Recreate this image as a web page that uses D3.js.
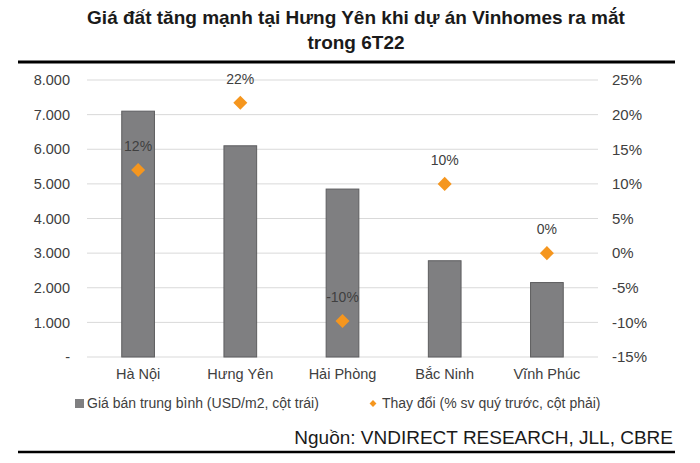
<!DOCTYPE html>
<html>
<head>
<meta charset="utf-8">
<script src="https://cdn.jsdelivr.net/npm/d3@7"></script>
<style>
  body { margin: 0; background: #fff; }
  svg { display: block; font-family: "Liberation Sans", Arial, sans-serif; }
</style>
</head>
<body>
<div id="chart"></div>
<script>
// data
const provinces = ["Hà Nội", "Hưng Yên", "Hải Phòng", "Bắc Ninh", "Vĩnh Phúc"];
const avgPrice = [7100, 6100, 4850, 2780, 2150];          // USD/m2, left axis
const priceChange = [0.12, 0.217, -0.098, 0.10, 0.0];     // % vs previous quarter, right axis
const leftTicks = [0, 1000, 2000, 3000, 4000, 5000, 6000, 7000, 8000];
const rightTicks = [-0.15, -0.10, -0.05, 0, 0.05, 0.10, 0.15, 0.20, 0.25];

const titleLines = ["Giá đất tăng mạnh tại Hưng Yên khi dự án Vinhomes ra mắt", "trong 6T22"];
const legendLabels = ["Giá bán trung bình (USD/m2, cột trái)", "Thay đổi (% sv quý trước, cột phải)"];
const sourceText = "Nguồn: VNDIRECT RESEARCH, JLL, CBRE";

const WIDTH = 700, HEIGHT = 463;
const margin = {top: 80, right: 102, bottom: 106, left: 87};
const width = WIDTH - margin.left - margin.right;
const height = HEIGHT - margin.top - margin.bottom;

const svg = d3.select("#chart").append("svg")
    .attr("width", WIDTH)
    .attr("height", HEIGHT);

// title + rules
svg.selectAll(".title").data(titleLines).enter().append("text")
    .attr("class", "title")
    .attr("x", 356)
    .attr("y", (d, i) => 24 + i * 25)
    .attr("text-anchor", "middle")
    .attr("font-weight", "bold")
    .attr("font-size", 19)
    .attr("fill", "#1a1a1a")
    .text(d => d);

svg.append("line").attr("x1", 18).attr("x2", 675).attr("y1", 62).attr("y2", 62)
    .attr("stroke", "#000").attr("stroke-width", 3);
svg.append("line").attr("x1", 18).attr("x2", 675).attr("y1", 452).attr("y2", 452)
    .attr("stroke", "#000").attr("stroke-width", 2.5);

const g = svg.append("g").attr("transform", `translate(${margin.left},${margin.top})`);

// scales
const x = d3.scaleBand().domain(provinces).range([0, width]).paddingInner(0.68).paddingOuter(0.34);
const yL = d3.scaleLinear().domain([0, 8000]).range([height, 0]);
const yR = d3.scaleLinear().domain([-0.15, 0.25]).range([height, 0]);

// gridlines
g.selectAll(".grid").data(leftTicks).enter().append("line")
    .attr("class", "grid")
    .attr("x1", 0).attr("x2", width)
    .attr("y1", d => yL(d)).attr("y2", d => yL(d))
    .attr("stroke", "#d9d9d9").attr("stroke-width", 1);

// axes
const pct = d => d3.format(".0%")(d).replace("\u2212", "-");
const leftFmt = d => d === 0 ? "-" : d3.format(",")(d).replace(/,/g, ".");
const yAxisL = d3.axisLeft(yL).tickValues(leftTicks).tickFormat(leftFmt).tickSize(0).tickPadding(17);
const yAxisR = d3.axisRight(yR).tickValues(rightTicks).tickFormat(pct).tickSize(0).tickPadding(14);
const xAxis = d3.axisBottom(x).tickSize(0).tickPadding(12);

g.append("g").attr("class", "axis left").call(yAxisL);
g.append("g").attr("class", "axis right").attr("transform", `translate(${width},0)`).call(yAxisR);
g.append("g").attr("class", "axis bottom").attr("transform", `translate(0,${height})`).call(xAxis);

g.selectAll(".axis .domain").remove();
g.selectAll(".axis text")
    .attr("font-family", "'Liberation Sans', Arial, sans-serif")
    .attr("font-size", 14.5)
    .attr("fill", "#404040");
g.selectAll(".axis.right text").attr("font-size", 15);

// bars
g.selectAll(".bar").data(provinces).enter().append("rect")
    .attr("class", "bar")
    .attr("x", d => x(d))
    .attr("width", x.bandwidth())
    .attr("y", (d, i) => yL(avgPrice[i]))
    .attr("height", (d, i) => height - yL(avgPrice[i]))
    .attr("fill", "#7f7f81")
    .attr("stroke", "#5d5d5f")
    .attr("stroke-width", 1);

// change markers
const diamond = d3.symbol().type(d3.symbolDiamond2).size(125);
g.selectAll(".pt").data(provinces).enter().append("path")
    .attr("class", "pt")
    .attr("d", diamond)
    .attr("transform", (d, i) => `translate(${x(d) + x.bandwidth() / 2},${yR(priceChange[i])})`)
    .attr("fill", "#f5961e");

g.selectAll(".pt-label").data(provinces).enter().append("text")
    .attr("class", "pt-label")
    .attr("x", d => x(d) + x.bandwidth() / 2)
    .attr("y", (d, i) => yR(priceChange[i]) - 19)
    .attr("text-anchor", "middle")
    .attr("font-size", 14)
    .attr("fill", "#404040")
    .text((d, i) => pct(priceChange[i]));

// legend
const leg = svg.append("g").attr("transform", "translate(75,408)");
leg.append("rect").attr("x", 0).attr("y", -9).attr("width", 9).attr("height", 9)
    .attr("fill", "#7f7f81");
leg.append("text").attr("x", 12).attr("y", 0).attr("font-size", 14).attr("fill", "#404040")
    .text(legendLabels[0]);
leg.append("path").attr("d", d3.symbol().type(d3.symbolDiamond2).size(30))
    .attr("transform", "translate(298,-4.5)").attr("fill", "#f5961e");
leg.append("text").attr("x", 307).attr("y", 0).attr("font-size", 14).attr("fill", "#404040")
    .text(legendLabels[1]);

// source
svg.append("text")
    .attr("x", 673).attr("y", 444)
    .attr("text-anchor", "end")
    .attr("font-size", 19)
    .attr("fill", "#1a1a1a")
    .text(sourceText);
</script>
</body>
</html>
